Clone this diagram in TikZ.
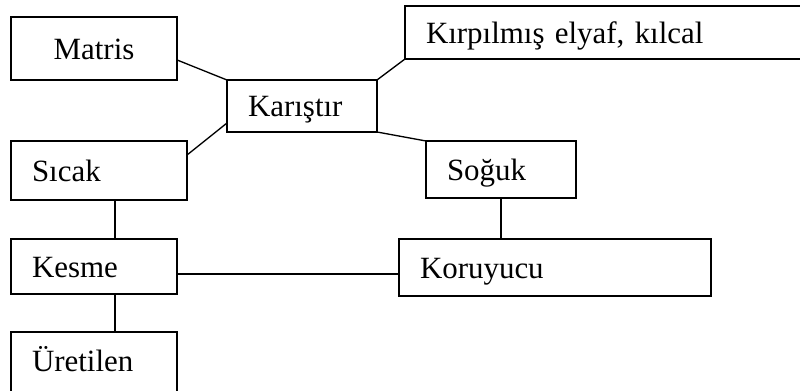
\documentclass[tikz,border=0pt]{standalone}
\usepackage{fontspec}
\setmainfont{Liberation Serif}
\usetikzlibrary{calc, positioning}
\tikzset{
  % kutular
  box/.style={draw,line width=1pt,rectangle,anchor=north west,outer sep=0pt,
    inner xsep=15.75pt,inner ysep=0pt,align=left,
    text height=16.5pt,text depth=0pt,font=\rmfamily\fontsize{23.2}{27}\selectfont},
  % baglantilar
  link/.style={line width=1pt}
}
\begin{document}
\begin{tikzpicture}[x=0.75pt,y=-0.75pt]
    \useasboundingbox (0,0) rectangle (800,391);
    \clip (0,0) rectangle (800,391);
    \fill[white] (0,0) rectangle (800,391);
    % ust sira
    \node[box,align=center,minimum height=47.25pt,text width=93pt] (matris) at (11,17) {Matris};
    \node[box,minimum height=39.75pt,text width=283.5pt] (kirpilmis) at (405,6) {Kırpılmış elyaf, kılcal};
    \node[box,minimum height=39pt,text width=81pt] (karistir) at (227,80) {Karıştır};
    \node[box,minimum height=44.25pt,text width=100.5pt] (sicak) at (11,141) {Sıcak};
    \node[box,minimum height=42.75pt,text width=81pt] (soguk) at (426,141) {Soğuk};
    % alt sira
    \node[box,minimum height=41.25pt,text width=93pt] (kesme) at (11,239) {Kesme};
    \node[box,minimum height=42.75pt,text width=202.5pt] (koruyucu) at (399,239) {Koruyucu};
    \node[box,text depth=16.5pt,minimum height=60pt,text width=93pt] (uretilen) at (11,332) {Üretilen};
    % baglantilar
    \draw[link] ([yshift=-8.6pt]matris.east) -- (karistir.north west);
    \draw[link] ([yshift=11.6pt]sicak.east) -- ([yshift=-12.75pt]karistir.west);
    \draw[link] (karistir.north east) -- (kirpilmis.south west);
    \draw[link] (karistir.south east) -- (soguk.north west);
    \draw[link] ([xshift=12pt]sicak.south) -- ([xshift=12pt]sicak.south |- kesme.north);
    \draw[link] ([xshift=15.75pt]kesme.south) -- ([xshift=15.75pt]uretilen.north);
    \draw[link] (soguk.south) -- (soguk.south |- koruyucu.north);
    \draw[link] ([yshift=-5.6pt]kesme.east) -- ([yshift=-5.6pt]kesme.east -| koruyucu.west);
\end{tikzpicture}
\end{document}
